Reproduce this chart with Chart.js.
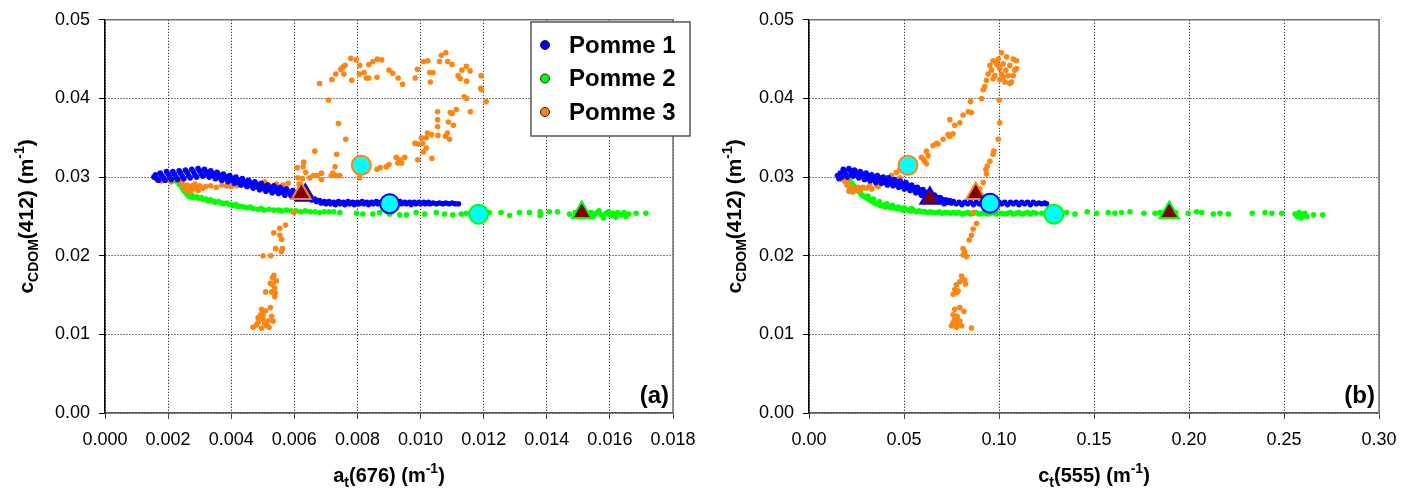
<!DOCTYPE html>
<html><head><meta charset="utf-8">
<script src="https://cdn.jsdelivr.net/npm/chart.js@4.4.1/dist/chart.umd.min.js"></script>
<style>
html,body{margin:0;padding:0;background:#fff;overflow:hidden}
#wrap{position:relative;width:1416px;height:501px}
canvas{position:absolute;top:0}
#ca{left:0}#cb{left:708px}
</style></head><body>
<div id="wrap"><canvas id="ca" width="708" height="501" style="width:708px;height:501px"></canvas><canvas id="cb" width="708" height="501" style="width:708px;height:501px"></canvas></div>
<script>
// ---------- DATA ----------
const seriesNames = ['Pomme 1', 'Pomme 2', 'Pomme 3'];
const xTicksA = [0, 0.002, 0.004, 0.006, 0.008, 0.010, 0.012, 0.014, 0.016, 0.018];
const xTicksB = [0, 0.05, 0.10, 0.15, 0.20, 0.25, 0.30];
const yTicks = [0, 0.01, 0.02, 0.03, 0.04, 0.05];

// panel (a): x = a_t(676), y = c_CDOM(412)
const p1A = [[0.00155,0.0300],[0.00160,0.0303],[0.00165,0.0298],[0.00170,0.0296],[0.00175,0.0305],[0.00180,0.0302],[0.00185,0.0299],[0.00190,0.0296],[0.00195,0.0307],[0.00200,0.0304],[0.00205,0.0300],[0.00210,0.0297],[0.00215,0.0307],[0.00220,0.0304],[0.00225,0.0300],[0.00230,0.0297],[0.00235,0.0308],[0.00240,0.0305],[0.00245,0.0301],[0.00250,0.0298],[0.00255,0.0309],[0.00260,0.0306],[0.00265,0.0302],[0.00270,0.0299],[0.00275,0.0310],[0.00280,0.0307],[0.00285,0.0303],[0.00290,0.0300],[0.00295,0.0311],[0.00300,0.0308],[0.00305,0.0304],[0.00310,0.0301],[0.00315,0.0310],[0.00320,0.0307],[0.00325,0.0303],[0.00330,0.0300],[0.00335,0.0308],[0.00340,0.0305],[0.00345,0.0301],[0.00350,0.0298],[0.00355,0.0306],[0.00360,0.0303],[0.00365,0.0299],[0.00370,0.0296],[0.00375,0.0304],[0.00380,0.0301],[0.00385,0.0297],[0.00390,0.0294],[0.00395,0.0302],[0.00400,0.0299],[0.00405,0.0295],[0.00410,0.0292],[0.00415,0.0300],[0.00420,0.0297],[0.00425,0.0293],[0.00430,0.0290],[0.00435,0.0298],[0.00440,0.0295],[0.00445,0.0291],[0.00450,0.0288],[0.00455,0.0296],[0.00460,0.0293],[0.00465,0.0289],[0.00470,0.0286],[0.00475,0.0294],[0.00480,0.0291],[0.00485,0.0287],[0.00490,0.0284],[0.00495,0.0292],[0.00500,0.0289],[0.00505,0.0285],[0.00510,0.0282],[0.00515,0.0290],[0.00520,0.0287],[0.00525,0.0283],[0.00530,0.0280],[0.00535,0.0289],[0.00540,0.0286],[0.00545,0.0282],[0.00550,0.0279],[0.00555,0.0287],[0.00560,0.0284],[0.00565,0.0280],[0.00570,0.0277],[0.00575,0.0285],[0.00580,0.0282],[0.00585,0.0279],[0.00590,0.0276],[0.00595,0.0283],[0.00600,0.0280],[0.00605,0.0277],[0.00610,0.0275],[0.00615,0.0281],[0.00620,0.0278],[0.00625,0.0275],[0.00630,0.0273],[0.00635,0.0276],[0.00640,0.0273],[0.00650,0.0275],[0.00655,0.0271],[0.00665,0.0272],[0.00670,0.0269],[0.00680,0.0270],[0.00685,0.0267],[0.00695,0.0269],[0.00700,0.0266],[0.00710,0.0269],[0.00715,0.0266],[0.00725,0.0268],[0.00730,0.0265],[0.00740,0.0269],[0.00745,0.0266],[0.00755,0.0268],[0.00760,0.0265],[0.00770,0.0269],[0.00775,0.0266],[0.00785,0.0268],[0.00790,0.0265],[0.00800,0.0268],[0.00805,0.0266],[0.00815,0.0269],[0.00820,0.0266],[0.00830,0.0268],[0.00835,0.0265],[0.00845,0.0268],[0.00850,0.0266],[0.00860,0.0269],[0.00865,0.0266],[0.00875,0.0268],[0.00880,0.0265],[0.00890,0.0268],[0.00895,0.0266],[0.00905,0.0268],[0.00910,0.0266],[0.00920,0.0268],[0.00925,0.0265],[0.00935,0.0269],[0.00940,0.0266],[0.00950,0.0268],[0.00955,0.0266],[0.00965,0.0268],[0.00970,0.0265],[0.00980,0.0268],[0.00985,0.0266],[0.00995,0.0268],[0.01000,0.0266],[0.01010,0.0268],[0.01015,0.0266],[0.01025,0.0268],[0.01030,0.0266],[0.01040,0.0267],[0.01050,0.0266],[0.01060,0.0267],[0.01070,0.0266],[0.01080,0.0267],[0.01090,0.0266],[0.01100,0.0267],[0.01110,0.0266],[0.01120,0.0266]];
const p2A = [[0.00225,0.0295],[0.00235,0.0291],[0.00245,0.0286],[0.00250,0.0283],[0.00255,0.0281],[0.00260,0.0278],[0.00265,0.0276],[0.00270,0.0275],[0.00275,0.0277],[0.00280,0.0274],[0.00290,0.0275],[0.00295,0.0273],[0.00305,0.0274],[0.00310,0.0272],[0.00320,0.0272],[0.00325,0.0270],[0.00335,0.0271],[0.00345,0.0269],[0.00350,0.0268],[0.00360,0.0269],[0.00370,0.0267],[0.00375,0.0266],[0.00385,0.0267],[0.00395,0.0265],[0.00405,0.0264],[0.00415,0.0265],[0.00420,0.0263],[0.00430,0.0263],[0.00440,0.0262],[0.00450,0.0261],[0.00460,0.0262],[0.00470,0.0260],[0.00485,0.0259],[0.00495,0.0260],[0.00505,0.0258],[0.00520,0.0259],[0.00535,0.0258],[0.00550,0.0258],[0.00560,0.0257],[0.00575,0.0258],[0.00590,0.0257],[0.00605,0.0257],[0.00620,0.0256],[0.00635,0.0257],[0.00650,0.0256],[0.00665,0.0256],[0.00680,0.0255],[0.00695,0.0256],[0.00710,0.0256],[0.00725,0.0256],[0.00744,0.0255],[0.00797,0.0254],[0.00817,0.0253],[0.00849,0.0253],[0.00870,0.0255],[0.00902,0.0253],[0.00934,0.0252],[0.00955,0.0252],[0.00986,0.0255],[0.01013,0.0253],[0.01050,0.0255],[0.01076,0.0253],[0.01102,0.0252],[0.01129,0.0253],[0.01145,0.0254],[0.01218,0.0255],[0.01255,0.0255],[0.01282,0.0251],[0.01313,0.0255],[0.01345,0.0255],[0.01379,0.0256],[0.01379,0.0251],[0.01408,0.0256],[0.01434,0.0256],[0.01472,0.0253],[0.01490,0.0255],[0.01493,0.0251],[0.01500,0.0253],[0.01520,0.0256],[0.01530,0.0252],[0.01540,0.0255],[0.01548,0.0250],[0.01556,0.0254],[0.01565,0.0257],[0.01572,0.0252],[0.01580,0.0248],[0.01588,0.0254],[0.01595,0.0256],[0.01602,0.0251],[0.01610,0.0254],[0.01619,0.0249],[0.01625,0.0255],[0.01635,0.0252],[0.01645,0.0255],[0.01651,0.0250],[0.01660,0.0253],[0.01683,0.0254],[0.01714,0.0254]];
const p3A = [[0.00165,0.0296],[0.00180,0.0295],[0.00195,0.0296],[0.00210,0.0294],[0.00235,0.0296],[0.00245,0.0292],[0.00250,0.0288],[0.00255,0.0284],[0.00260,0.0290],[0.00265,0.0286],[0.00270,0.0281],[0.00275,0.0289],[0.00280,0.0285],[0.00285,0.0291],[0.00290,0.0287],[0.00295,0.0283],[0.00300,0.0289],[0.00310,0.0286],[0.00320,0.0288],[0.00335,0.0289],[0.00353,0.0287],[0.00370,0.0290],[0.00385,0.0289],[0.00400,0.0288],[0.00417,0.0289],[0.00432,0.0290],[0.00448,0.0289],[0.00465,0.0290],[0.00480,0.0289],[0.00506,0.0294],[0.00517,0.0290],[0.00533,0.0288],[0.00543,0.0291],[0.00564,0.0290],[0.00580,0.0292],[0.00609,0.0312],[0.00611,0.0299],[0.00615,0.0291],[0.00626,0.0298],[0.00628,0.0313],[0.00630,0.0319],[0.00636,0.0306],[0.00649,0.0299],[0.00661,0.0302],[0.00665,0.0333],[0.00672,0.0302],[0.00686,0.0305],[0.00686,0.0297],[0.00717,0.0302],[0.00722,0.0305],[0.00729,0.0313],[0.00731,0.0302],[0.00734,0.0329],[0.00744,0.0302],[0.00807,0.0299],[0.00680,0.0419],[0.00708,0.0398],[0.00719,0.0424],[0.00731,0.0431],[0.00740,0.0368],[0.00747,0.0437],[0.00754,0.0440],[0.00761,0.0442],[0.00757,0.0431],[0.00763,0.0348],[0.00779,0.0451],[0.00782,0.0423],[0.00796,0.0449],[0.00807,0.0442],[0.00806,0.0431],[0.00821,0.0433],[0.00828,0.0426],[0.00836,0.0426],[0.00836,0.0443],[0.00849,0.0447],[0.00863,0.0450],[0.00877,0.0449],[0.00862,0.0427],[0.00900,0.0436],[0.00912,0.0432],[0.00929,0.0426],[0.00943,0.0418],[0.00983,0.0426],[0.00990,0.0437],[0.01009,0.0447],[0.01023,0.0448],[0.01029,0.0433],[0.01039,0.0433],[0.01031,0.0421],[0.01060,0.0447],[0.01066,0.0455],[0.01080,0.0458],[0.01086,0.0447],[0.01100,0.0443],[0.01119,0.0429],[0.01126,0.0425],[0.01131,0.0436],[0.01145,0.0441],[0.01146,0.0422],[0.01157,0.0435],[0.01192,0.0429],[0.01191,0.0413],[0.01193,0.0411],[0.01208,0.0396],[0.01138,0.0402],[0.01146,0.0400],[0.01113,0.0386],[0.01158,0.0383],[0.01094,0.0382],[0.01100,0.0381],[0.01054,0.0383],[0.01054,0.0373],[0.01088,0.0370],[0.01104,0.0366],[0.01054,0.0364],[0.01085,0.0356],[0.01079,0.0352],[0.01092,0.0348],[0.01055,0.0353],[0.01022,0.0356],[0.01035,0.0354],[0.01018,0.0350],[0.01003,0.0350],[0.01007,0.0343],[0.00982,0.0343],[0.00993,0.0342],[0.01018,0.0337],[0.01009,0.0332],[0.01036,0.0324],[0.00991,0.0322],[0.00923,0.0325],[0.00934,0.0322],[0.00940,0.0318],[0.00950,0.0325],[0.00928,0.0318],[0.00900,0.0316],[0.00891,0.0313],[0.00872,0.0312],[0.00862,0.0310],[0.00599,0.0255],[0.00572,0.0239],[0.00554,0.0235],[0.00535,0.0229],[0.00554,0.0226],[0.00560,0.0221],[0.00541,0.0209],[0.00562,0.0209],[0.00559,0.0205],[0.00525,0.0200],[0.00501,0.0200],[0.00535,0.0175],[0.00531,0.0172],[0.00543,0.0168],[0.00524,0.0165],[0.00531,0.0163],[0.00538,0.0159],[0.00528,0.0154],[0.00539,0.0153],[0.00509,0.0154],[0.00538,0.0148],[0.00524,0.0134],[0.00496,0.0132],[0.00509,0.0130],[0.00493,0.0125],[0.00485,0.0121],[0.00501,0.0119],[0.00517,0.0117],[0.00533,0.0117],[0.00469,0.0109],[0.00480,0.0112],[0.00496,0.0108],[0.00512,0.0111],[0.00528,0.0123],[0.00485,0.0115],[0.00506,0.0114],[0.00520,0.0109],[0.00501,0.0125]];
const circA = [[0.00902,0.02660],[0.01184,0.02528],[0.00812,0.03150]];
const triA = [[0.00635,0.02770],[0.01511,0.02550],[0.00622,0.02790]];

// panel (b): x = c_t(555), y = c_CDOM(412)
const p1B = [[0.0150,0.0302],[0.0158,0.0298],[0.0165,0.0305],[0.0172,0.0300],[0.0180,0.0310],[0.0188,0.0307],[0.0195,0.0303],[0.0202,0.0300],[0.0210,0.0311],[0.0218,0.0308],[0.0225,0.0304],[0.0232,0.0301],[0.0240,0.0309],[0.0248,0.0306],[0.0255,0.0302],[0.0262,0.0299],[0.0270,0.0307],[0.0278,0.0304],[0.0285,0.0300],[0.0292,0.0297],[0.0300,0.0305],[0.0308,0.0302],[0.0315,0.0298],[0.0322,0.0295],[0.0330,0.0303],[0.0338,0.0300],[0.0345,0.0296],[0.0352,0.0293],[0.0360,0.0302],[0.0368,0.0299],[0.0375,0.0295],[0.0382,0.0292],[0.0390,0.0300],[0.0398,0.0297],[0.0405,0.0293],[0.0412,0.0290],[0.0420,0.0299],[0.0428,0.0296],[0.0435,0.0292],[0.0442,0.0289],[0.0450,0.0297],[0.0458,0.0294],[0.0465,0.0290],[0.0472,0.0287],[0.0480,0.0295],[0.0488,0.0292],[0.0495,0.0288],[0.0502,0.0285],[0.0510,0.0293],[0.0518,0.0290],[0.0525,0.0286],[0.0532,0.0283],[0.0540,0.0290],[0.0548,0.0287],[0.0555,0.0283],[0.0562,0.0280],[0.0570,0.0287],[0.0578,0.0284],[0.0585,0.0280],[0.0592,0.0277],[0.0600,0.0284],[0.0608,0.0281],[0.0615,0.0277],[0.0622,0.0274],[0.0630,0.0281],[0.0638,0.0278],[0.0645,0.0274],[0.0652,0.0271],[0.0660,0.0277],[0.0668,0.0275],[0.0675,0.0271],[0.0682,0.0269],[0.0690,0.0274],[0.0698,0.0272],[0.0705,0.0268],[0.0712,0.0266],[0.0720,0.0271],[0.0730,0.0268],[0.0740,0.0270],[0.0750,0.0267],[0.0760,0.0269],[0.0775,0.0266],[0.0790,0.0268],[0.0805,0.0265],[0.0820,0.0268],[0.0835,0.0266],[0.0850,0.0268],[0.0865,0.0265],[0.0880,0.0268],[0.0895,0.0266],[0.0910,0.0268],[0.0925,0.0265],[0.0940,0.0268],[0.0955,0.0266],[0.0970,0.0268],[0.0985,0.0265],[0.1000,0.0268],[0.1015,0.0266],[0.1030,0.0268],[0.1045,0.0265],[0.1060,0.0268],[0.1075,0.0266],[0.1090,0.0268],[0.1105,0.0265],[0.1120,0.0268],[0.1135,0.0266],[0.1150,0.0268],[0.1165,0.0265],[0.1180,0.0268],[0.1195,0.0266],[0.1210,0.0267],[0.1225,0.0266],[0.1240,0.0267],[0.1250,0.0266]];
const p2B = [[0.0205,0.0298],[0.0215,0.0295],[0.0225,0.0292],[0.0235,0.0289],[0.0245,0.0286],[0.0255,0.0283],[0.0265,0.0281],[0.0275,0.0278],[0.0285,0.0276],[0.0295,0.0275],[0.0305,0.0273],[0.0310,0.0276],[0.0315,0.0272],[0.0325,0.0270],[0.0335,0.0269],[0.0340,0.0272],[0.0345,0.0267],[0.0355,0.0266],[0.0365,0.0266],[0.0370,0.0269],[0.0375,0.0264],[0.0390,0.0264],[0.0400,0.0262],[0.0410,0.0266],[0.0415,0.0263],[0.0430,0.0261],[0.0440,0.0264],[0.0445,0.0261],[0.0460,0.0260],[0.0470,0.0262],[0.0475,0.0260],[0.0490,0.0258],[0.0500,0.0261],[0.0505,0.0259],[0.0520,0.0258],[0.0535,0.0257],[0.0540,0.0260],[0.0550,0.0258],[0.0565,0.0256],[0.0580,0.0257],[0.0595,0.0256],[0.0610,0.0256],[0.0625,0.0255],[0.0640,0.0256],[0.0655,0.0255],[0.0670,0.0255],[0.0685,0.0256],[0.0700,0.0254],[0.0715,0.0255],[0.0730,0.0255],[0.0745,0.0254],[0.0760,0.0255],[0.0775,0.0254],[0.0790,0.0255],[0.0805,0.0253],[0.0820,0.0254],[0.0835,0.0255],[0.0850,0.0253],[0.0865,0.0254],[0.0880,0.0255],[0.0895,0.0253],[0.0910,0.0254],[0.0925,0.0254],[0.0940,0.0253],[0.0955,0.0254],[0.0970,0.0255],[0.0985,0.0253],[0.1000,0.0254],[0.1015,0.0254],[0.1030,0.0253],[0.1045,0.0254],[0.1060,0.0255],[0.1075,0.0253],[0.1090,0.0254],[0.1105,0.0255],[0.1120,0.0253],[0.1135,0.0254],[0.1150,0.0255],[0.1165,0.0253],[0.1180,0.0255],[0.1195,0.0254],[0.1225,0.0254],[0.1356,0.0255],[0.1400,0.0253],[0.1464,0.0256],[0.1514,0.0254],[0.1575,0.0255],[0.1610,0.0254],[0.1645,0.0255],[0.1689,0.0256],[0.1763,0.0254],[0.1821,0.0254],[0.1847,0.0255],[0.1860,0.0254],[0.1930,0.0255],[0.1996,0.0254],[0.2040,0.0256],[0.2067,0.0255],[0.2128,0.0253],[0.2163,0.0254],[0.2207,0.0253],[0.2333,0.0254],[0.2400,0.0255],[0.2436,0.0254],[0.2488,0.0254],[0.2558,0.0253],[0.2570,0.0250],[0.2580,0.0255],[0.2590,0.0248],[0.2600,0.0252],[0.2610,0.0254],[0.2620,0.0250],[0.2655,0.0252],[0.2704,0.0252]];
const p3B = [[0.0161,0.0299],[0.0175,0.0297],[0.0190,0.0294],[0.0200,0.0290],[0.0205,0.0293],[0.0210,0.0282],[0.0214,0.0285],[0.0225,0.0287],[0.0232,0.0281],[0.0240,0.0284],[0.0258,0.0287],[0.0270,0.0283],[0.0284,0.0287],[0.0300,0.0286],[0.0320,0.0289],[0.0330,0.0285],[0.0355,0.0290],[0.0365,0.0288],[0.0381,0.0293],[0.0408,0.0299],[0.0434,0.0302],[0.0460,0.0306],[0.0478,0.0310],[0.0478,0.0299],[0.0513,0.0311],[0.0548,0.0311],[0.0592,0.0325],[0.0609,0.0320],[0.0627,0.0327],[0.0618,0.0317],[0.0604,0.0322],[0.0618,0.0333],[0.0653,0.0340],[0.0671,0.0343],[0.0679,0.0342],[0.0706,0.0348],[0.0732,0.0354],[0.0740,0.0352],[0.0758,0.0355],[0.0741,0.0373],[0.0767,0.0366],[0.0794,0.0369],[0.0811,0.0379],[0.0838,0.0383],[0.0855,0.0382],[0.0850,0.0396],[0.0908,0.0400],[0.0917,0.0411],[0.0925,0.0415],[0.0934,0.0423],[0.0943,0.0431],[0.1013,0.0458],[0.0969,0.0448],[0.0996,0.0450],[0.1040,0.0453],[0.1075,0.0450],[0.1092,0.0448],[0.0952,0.0442],[0.0987,0.0444],[0.1022,0.0444],[0.1057,0.0442],[0.0961,0.0436],[0.1004,0.0438],[0.1036,0.0436],[0.1083,0.0436],[0.0978,0.0429],[0.1013,0.0431],[0.1048,0.0429],[0.1092,0.0438],[0.0969,0.0425],[0.1004,0.0424],[0.1031,0.0421],[0.1066,0.0421],[0.1057,0.0419],[0.1022,0.0427],[0.1075,0.0429],[0.0996,0.0442],[0.1001,0.0398],[0.1004,0.0369],[0.0996,0.0348],[0.0973,0.0333],[0.0969,0.0329],[0.0952,0.0320],[0.0938,0.0314],[0.0931,0.0310],[0.0934,0.0304],[0.0917,0.0293],[0.0899,0.0285],[0.0864,0.0255],[0.0882,0.0241],[0.0864,0.0234],[0.0855,0.0226],[0.0843,0.0220],[0.0811,0.0209],[0.0820,0.0205],[0.0829,0.0199],[0.0811,0.0201],[0.0803,0.0174],[0.0820,0.0169],[0.0794,0.0167],[0.0776,0.0163],[0.0824,0.0164],[0.0767,0.0157],[0.0785,0.0155],[0.0759,0.0151],[0.0776,0.0153],[0.0767,0.0132],[0.0794,0.0134],[0.0815,0.0129],[0.0759,0.0125],[0.0780,0.0123],[0.0767,0.0119],[0.0794,0.0117],[0.0750,0.0111],[0.0776,0.0109],[0.0803,0.0111],[0.0855,0.0108],[0.0759,0.0115],[0.0785,0.0114]];
const circB = [[0.0953,0.02667],[0.1289,0.02528],[0.0521,0.03150]];
const triB = [[0.0636,0.02730],[0.1896,0.02550],[0.0878,0.02792]];

// ---------- STYLE ----------
const FF = '"Liberation Sans", Arial, Helvetica, sans-serif';
const colors = ['#0000FF', '#00FF00', '#FF8512'];

function xy(arr){ return arr.map(p => ({x:p[0], y:p[1]})); }

function rich(ctx, parts, x, y, align){
  let w = 0;
  parts.forEach(p => { ctx.font = 'bold ' + p[1] + 'px ' + FF; w += ctx.measureText(p[0]).width; });
  let cx = align === 'center' ? x - w/2 : (align === 'right' ? x - w : x);
  ctx.textAlign = 'left'; ctx.textBaseline = 'alphabetic';
  parts.forEach(p => { ctx.font = 'bold ' + p[1] + 'px ' + FF; ctx.fillText(p[0], cx, y + p[2]); cx += ctx.measureText(p[0]).width; });
}

const deco = {
  id: 'deco',
  afterDraw(chart, args, o){
    const ctx = chart.ctx, a = chart.chartArea;
    ctx.save();
    ctx.strokeStyle = '#707070'; ctx.lineWidth = 1.5;
    ctx.beginPath(); ctx.moveTo(a.left, a.top); ctx.lineTo(a.right, a.top); ctx.lineTo(a.right, a.bottom); ctx.stroke();
    ctx.fillStyle = '#000';
    rich(ctx, o.xTitle, (a.left + a.right)/2, 482, 'center');
    ctx.save();
    ctx.translate(o.yTitleX, (a.top + a.bottom)/2);
    ctx.rotate(-Math.PI/2);
    rich(ctx, [['c',21,0],['CDOM',14,5],['(412) (m',21,0],['-1',14,-9],[')',21,0]], 0, 0, 'center');
    ctx.restore();
    ctx.font = 'bold 24px ' + FF; ctx.textAlign = 'right'; ctx.textBaseline = 'alphabetic';
    ctx.fillText(o.panel, a.right - 4, a.bottom - 10);
    if (o.legend){
      const L = o.legend;
      ctx.fillStyle = '#fff'; ctx.fillRect(L.x, L.y, L.w, L.h);
      ctx.strokeStyle = '#555'; ctx.lineWidth = 1.5; ctx.strokeRect(L.x, L.y, L.w, L.h);
      seriesNames.forEach((n, i) => {
        const cy = L.y + 23 + i * 33.5;
        ctx.beginPath(); ctx.arc(L.x + 14, cy, 4.5, 0, Math.PI*2);
        ctx.fillStyle = colors[i]; ctx.fill();
        ctx.strokeStyle = '#222'; ctx.lineWidth = 1; ctx.stroke();
        ctx.fillStyle = '#000'; ctx.font = 'bold 24px ' + FF; ctx.textAlign = 'left'; ctx.textBaseline = 'middle';
        ctx.fillText(n, L.x + 38, cy + 1);
      });
    }
    ctx.restore();
  }
};

function makeChart(id, P, circ, tri, xTicks, dec, yW, padR, opts){
  const ds = [];
  ds.push({data: xy(circ), pointStyle:'circle', pointRadius:9.5, pointBorderWidth:2,
    pointBackgroundColor:'#00FFFF', pointBorderColor:colors, order:0});
  ds.push({data: xy(tri), pointStyle:'triangle', pointRadius:11, pointBorderWidth:2,
    pointBackgroundColor:'#800000', pointBorderColor:colors, order:0});
  ds.push({data: xy(P[0]), pointRadius:2.8, pointBorderWidth:0, pointBackgroundColor:colors[0], order:1});
  ds.push({data: xy(P[2]), pointRadius:2.8, pointBorderWidth:0, pointBackgroundColor:colors[2], order:2});
  ds.push({data: xy(P[1]), pointRadius:2.8, pointBorderWidth:0, pointBackgroundColor:colors[1], order:3});
  ds.forEach(d => { d.showLine = false; d.pointHoverRadius = d.pointRadius; });
  const tickFont = {family: FF, size: 18};
  return new Chart(document.getElementById(id), {
    type: 'scatter',
    data: {datasets: ds},
    options: {
      responsive:false, animation:false, events:[],
      layout:{padding:{top:16, right:padR, left:0, bottom:0}},
      plugins:{legend:{display:false}, tooltip:{enabled:false}, deco: opts},
      scales:{
        x:{type:'linear', min:xTicks[0], max:xTicks[xTicks.length-1],
          afterBuildTicks: s => { s.ticks = xTicks.map(v => ({value:v})); },
          afterFit: s => { s.height = 88; },
          ticks:{callback: v => Number(v).toFixed(dec), font: tickFont, color:'#000', padding:10, maxRotation:0, autoSkip:false},
          grid:{color:'#000', lineWidth:1, drawTicks:true, tickLength:6, tickColor:'#444', tickBorderDash:[]},
          border:{display:true, color:'#555', width:1.5, dash:[1,2]}},
        y:{type:'linear', min:0, max:0.05,
          afterBuildTicks: s => { s.ticks = yTicks.map(v => ({value:v})); },
          afterFit: s => { s.width = yW; },
          ticks:{callback: v => Number(v).toFixed(2), font: tickFont, color:'#000', padding:9},
          grid:{color:'#000', lineWidth:1, drawTicks:true, tickLength:6, tickColor:'#000', tickBorderDash:[]},
          border:{display:true, color:'#000', width:1.5, dash:[1,2]}}
      }
    },
    plugins:[deco]
  });
}

makeChart('ca', [p1A, p2A, p3A], circA, triA, xTicksA, 3, 105, 35, {
  xTitle: [['a',20,0],['t',14,5],['(676) (m',20,0],['-1',14,-9],[')',20,0]],
  yTitleX: 33, panel:'(a)', legend:{x:531, y:22, w:159, h:114}
});
makeChart('cb', [p1B, p2B, p3B], circB, triB, xTicksB, 2, 101, 37, {
  xTitle: [['c',20,0],['t',14,5],['(555) (m',20,0],['-1',14,-9],[')',20,0]],
  yTitleX: 33, panel:'(b)', legend:null
});
</script>
</body></html>
